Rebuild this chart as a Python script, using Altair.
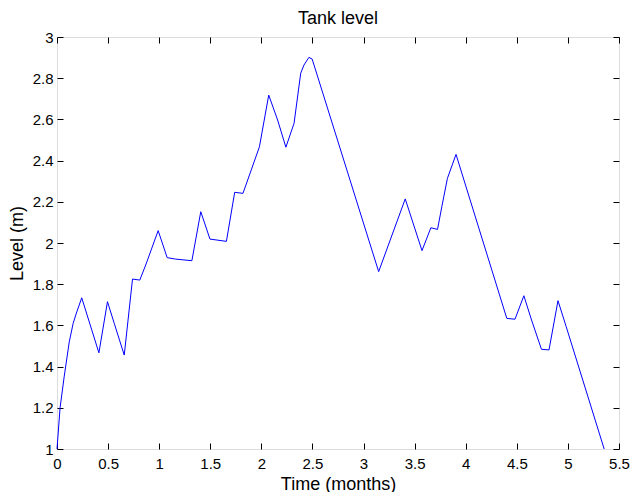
import altair as alt
import pandas as pd

time_months = [0.0, 0.03, 0.07, 0.12, 0.158, 0.19, 0.242, 0.41, 0.494, 0.56, 0.658,
               0.739, 0.81, 0.868, 0.99, 1.078, 1.158, 1.32, 1.407, 1.497, 1.658,
               1.739, 1.82, 1.981, 2.072, 2.159, 2.24, 2.32, 2.385, 2.417, 2.465,
               2.497, 3.148, 3.408, 3.572, 3.659, 3.724, 3.766, 3.821, 3.905, 4.402,
               4.482, 4.569, 4.644, 4.741, 4.815, 4.903, 4.983, 5.355]
level_m = [1.0, 1.2, 1.35, 1.52, 1.61, 1.66, 1.734, 1.467, 1.715, 1.61, 1.456,
           1.825, 1.82, 1.893, 2.06, 1.929, 1.922, 1.914, 2.152, 2.019, 2.008,
           2.246, 2.241, 2.467, 2.718, 2.597, 2.465, 2.581, 2.824, 2.864, 2.901,
           2.893, 1.861, 2.214, 1.963, 2.074, 2.066, 2.176, 2.314, 2.430, 1.634,
           1.630, 1.744, 1.626, 1.484, 1.481, 1.72, 1.594, 1.0]
x_ticks = [0, 0.5, 1, 1.5, 2, 2.5, 3, 3.5, 4, 4.5, 5, 5.5]
y_ticks = [1, 1.2, 1.4, 1.6, 1.8, 2, 2.2, 2.4, 2.6, 2.8, 3]

df = pd.DataFrame({"t": time_months, "level": level_m})

FONT = "Liberation Sans"
xs = alt.Scale(domain=[0, 5.5], nice=False, zero=False)
ys = alt.Scale(domain=[1, 3], nice=False, zero=False)

common = dict(tickSize=6, offset=-6, domain=False, grid=False, tickColor="black",
              labelColor="black", titleColor="black", labelFont=FONT, titleFont=FONT,
              labelFontSize=15, titleFontSize=18, titleFontWeight="normal",
              labelOverlap=False, labelFlush=False, format="~g")

main = alt.Chart(df).mark_line(color="#0000ff", strokeWidth=1).encode(
    x=alt.X("t:Q", scale=xs, title="Time (months)",
            axis=alt.Axis(orient="bottom", values=x_ticks, labelPadding=7,
                          titlePadding=4, **common)),
    y=alt.Y("level:Q", scale=ys, title="Level (m)",
            axis=alt.Axis(orient="left", values=y_ticks, labelPadding=4,
                          titlePadding=6, **common)),
)

mirror = alt.Chart(df).mark_line(strokeOpacity=0).encode(
    x=alt.X("t:Q", scale=xs, title=None,
            axis=alt.Axis(orient="top", values=x_ticks, labels=False, **common)),
    y=alt.Y("level:Q", scale=ys, title=None,
            axis=alt.Axis(orient="right", values=y_ticks, labels=False, **common)),
)

chart = alt.layer(main, mirror).resolve_axis(x="independent", y="independent").properties(
    width=562, height=412,
    title=alt.TitleParams("Tank level", font=FONT, fontSize=18, fontWeight="normal",
                          color="black", offset=2, anchor="middle"),
    autosize=alt.AutoSizeParams(type="none"),
    padding={"left": 49, "top": 29, "right": 11, "bottom": 43},
).configure_view(stroke="black", strokeWidth=1).configure(background="white")

chart.save("out.html", embed_options={"renderer": "svg", "actions": False})
